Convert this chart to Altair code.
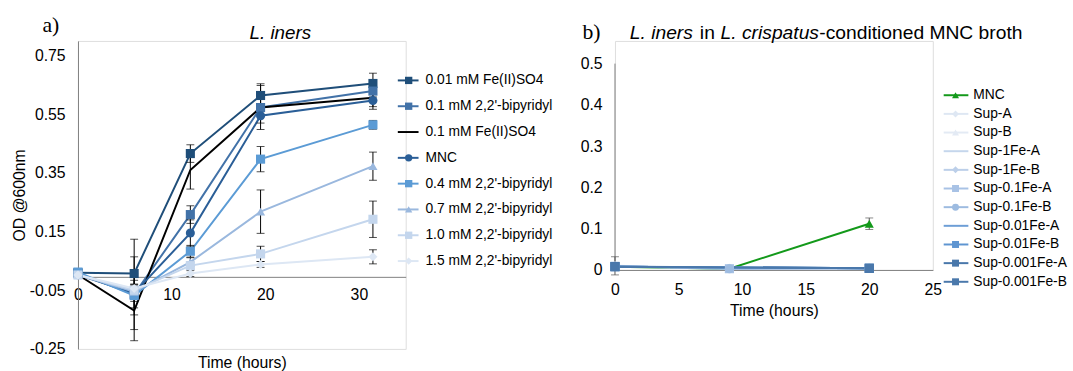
import altair as alt
import pandas as pd

FONT = "Liberation Sans"
SERIF = "Liberation Serif"

# ---------------- Panel a data ----------------
timesA = [0, 6, 12, 19.5, 31.5]
namesA = ["0.01 mM Fe(II)SO4", "0.1 mM 2,2'-bipyridyl", "0.1 mM Fe(II)SO4", "MNC",
          "0.4 mM 2,2'-bipyridyl", "0.7 mM 2,2'-bipyridyl", "1.0 mM 2,2'-bipyridyl",
          "1.5 mM 2,2'-bipyridyl"]
colorsA = ["#1f4e79", "#4272a8", "#000000", "#2a5e97", "#5b9bd5", "#9ab8de", "#c4d6ed", "#dde7f4"]
shapesA = ["square", "square", "", "circle", "square", "triangle-up", "square", "diamond"]
valuesA = [
    [0.010, 0.007, 0.416, 0.614, 0.655],
    [0.007, -0.064, 0.208, 0.573, 0.629],
    [0.003, -0.119, 0.360, 0.573, 0.606],
    [0.003, -0.060, 0.145, 0.545, 0.597],
    [0.012, -0.068, 0.083, 0.397, 0.514],
    [0.003, -0.055, 0.046, 0.218, 0.373],
    [0.002, -0.050, 0.034, 0.074, 0.192],
    [0.002, -0.044, 0.007, 0.038, 0.064],
]
errorsA = [
    [0, 0.117, 0.030, 0.040, 0.035],
    [0, 0.070, 0.030, 0.030, 0.020],
    [0, 0.103, 0.065, 0.075, 0.030],
    [0, 0.124, 0.045, 0.025, 0.030],
    [0, 0.020, 0.020, 0.043, 0.015],
    [0, 0.020, 0.015, 0.074, 0.048],
    [0, 0.020, 0.012, 0.026, 0.062],
    [0, 0.015, 0.010, 0.010, 0.024],
]

# ---------------- Panel b data ----------------
timesB = [0, 9, 20]
namesB = ["MNC", "Sup-A", "Sup-B", "Sup-1Fe-A", "Sup-1Fe-B", "Sup-0.1Fe-A", "Sup-0.1Fe-B",
          "Sup-0.01Fe-A", "Sup-0.01Fe-B", "Sup-0.001Fe-A", "Sup-0.001Fe-B"]
colorsB = ["#13991a", "#dee7f3", "#e3eaf4", "#c5d6ec", "#bccfe9", "#a8c2e5", "#9dbbe0",
           "#6d9ed6", "#5e95d1", "#4877aa", "#4a78ab"]
shapesB = ["triangle-up", "diamond", "triangle-up", "", "diamond", "square", "circle",
           "", "square", "square", "square"]
valuesB = [
    [0.008, 0.003, 0.112],
    [0.010, 0.004, 0.004],
    [0.010, 0.004, 0.004],
    [0.009, 0.004, 0.004],
    [0.009, 0.004, 0.004],
    [0.009, 0.003, 0.004],
    [0.009, 0.003, 0.004],
    [0.008, None, 0.004],
    [0.008, None, 0.004],
    [0.008, None, 0.004],
    [0.008, None, 0.004],
]
errorsB = [
    [0, 0, 0.014],
    [0.022, 0, 0], [0, 0, 0], [0, 0, 0], [0, 0, 0], [0, 0, 0], [0, 0, 0],
    [0, 0, 0], [0, 0, 0], [0, 0, 0], [0, 0, 0],
]
yAxisTopB = 0.5


def long_df(times, names, colors, shapes, values, errors):
    rows = []
    for i, n in enumerate(names):
        for j, t in enumerate(times):
            v = values[i][j]
            if v is None:
                continue
            e = errors[i][j]
            rows.append(dict(series=n, idx=i, time=t, value=v, lo=v - e, hi=v + e, err=e,
                             color=colors[i], shape=shapes[i]))
    return pd.DataFrame(rows)


def legend_df(names, colors, shapes):
    return pd.DataFrame(dict(series=names, color=colors, shape=shapes, idx=list(range(len(names)))))


def panel(df, leg, names, xdom, ydom, xvals, yvals, ylabel_expr, width, height, x_offset,
          y_title, leg_range, leg_x, leg_font, leg_size, mk_size, err_color, texts,
          x_label_pad, x_title_pad, y_domain_top=None):
    x = alt.X("time:Q", scale=alt.Scale(domain=xdom, nice=False, zero=False),
              axis=alt.Axis(values=xvals, title="Time (hours)", grid=False, ticks=False,
                            domainColor="#808080", domainWidth=1, labelFont=FONT,
                            labelFontSize=16, labelColor="#000", labelPadding=x_label_pad,
                            titleFont=FONT, titleFontSize=16, titleFontWeight="normal",
                            titleColor="#000", offset=x_offset,
                            titlePadding=x_title_pad, labelFlush=False))
    y = alt.Y("value:Q", scale=alt.Scale(domain=ydom, nice=False, zero=False),
              axis=alt.Axis(values=yvals, title=y_title, grid=False, ticks=False,
                            domain=(y_domain_top is None),
                            domainColor="#808080", domainWidth=1, labelFont=FONT,
                            labelFontSize=16, labelColor="#000", labelPadding=13,
                            labelExpr=ylabel_expr, titleFont=FONT, titleFontSize=16,
                            titleFontWeight="normal", titleColor="#000", titlePadding=2,
                            labelFlush=False))
    base = alt.Chart(df)
    lines = base.mark_line(strokeWidth=2).encode(
        x=x, y=y, color=alt.Color("color:N", scale=None), detail="series:N",
        order="time:Q")
    ebase = base.transform_filter("datum.err > 0")
    rules = ebase.mark_rule(color=err_color, strokeWidth=1).encode(
        x="time:Q", y="lo:Q", y2="hi:Q")
    cap_lo = ebase.mark_tick(orient="horizontal", size=8, thickness=1, color=err_color).encode(
        x="time:Q", y="lo:Q")
    cap_hi = ebase.mark_tick(orient="horizontal", size=8, thickness=1, color=err_color).encode(
        x="time:Q", y="hi:Q")
    pts = base.transform_filter("datum.shape != ''").mark_point(
        filled=True, size=mk_size, opacity=1).encode(
        x="time:Q", y="value:Q", color=alt.Color("color:N", scale=None),
        shape=alt.Shape("shape:N", scale=None))
    layers = [lines]
    if y_domain_top is not None:
        axis_line = alt.Chart(pd.DataFrame({"a": [0]})).mark_rule(
            color="#808080", strokeWidth=1).encode(
            x=alt.value(0), y=alt.Y(datum=ydom[0]), y2=alt.Y2(datum=y_domain_top))
        layers.append(axis_line)
    layers += [rules, cap_lo, cap_hi, pts]
    data_layer = alt.layer(*layers)

    ly = alt.Y("series:N", sort=names, axis=None,
               scale=alt.Scale(type="point", range=leg_range, padding=0))
    lbase = alt.Chart(leg)
    lrule = lbase.mark_rule(strokeWidth=2).encode(
        x=alt.value(leg_x[0]), x2=alt.value(leg_x[1]), y=ly,
        color=alt.Color("color:N", scale=None))
    lpts = lbase.transform_filter("datum.shape != ''").mark_point(
        filled=True, size=leg_size, opacity=1).encode(
        x=alt.value(leg_x[2]), y=ly, color=alt.Color("color:N", scale=None),
        shape=alt.Shape("shape:N", scale=None))
    ltxt = lbase.mark_text(align="left", baseline="middle", font=FONT,
                           fontSize=leg_font, color="#000").encode(
        x=alt.value(leg_x[3]), y=ly, text="series:N")
    leg_layer = alt.layer(lrule, lpts, ltxt)

    text_layers = []
    for (txt, tx, ty, font, size, style, align) in texts:
        text_layers.append(
            alt.Chart(pd.DataFrame({"t": [txt]})).mark_text(
                align=align, baseline="alphabetic", font=font, fontSize=size,
                fontStyle=style, color="#000").encode(
                text="t:N", x=alt.value(tx), y=alt.value(ty)))

    return alt.layer(data_layer, leg_layer, *text_layers).resolve_scale(
        y="independent").properties(width=width, height=height)


dfA = long_df(timesA, namesA, colorsA, shapesA, valuesA, errorsA)
legA = legend_df(namesA, colorsA, shapesA)
dfB = long_df(timesB, namesB, colorsB, shapesB, valuesB, errorsB)
legB = legend_df(namesB, colorsB, shapesB)

exprA = "(datum.value < 0 ? '-' : '') + format(abs(datum.value), '.2f')"
exprB = "format(datum.value, '~g')"

panelA = panel(
    dfA, legA, namesA, [0, 35], [-0.25, 0.8], [0, 10, 20, 30],
    [-0.25, -0.05, 0.15, 0.35, 0.55, 0.75], exprA, 332, 312, -73, "OD @600nm",
    [40, 223], [324, 345, 335, 352], 14, 55, 85, "#000",
    [("a)", -36, -9, SERIF, 22, "normal", "left"),
     ("L. iners", 205, -2, FONT, 19, "italic", "center")],
    x_label_pad=10, x_title_pad=53)

panelB = panel(
    dfB, legB, namesB, [0, 25], [0, 0.555], [0, 5, 10, 15, 20, 25],
    [0, 0.1, 0.2, 0.3, 0.4, 0.5], exprB, 322, 232, 0, None,
    [55, 244], [333, 358, 345, 363], 14, 50, 85, "#555",
    [("b)", -33, -2, SERIF, 22, "normal", "left"),
     ("L. iners", 15, -2, FONT, 19.5, "italic", "left"),
     ("in", 86, -2, FONT, 19.5, "normal", "left"),
     ("L. crispatus", 107, -2, FONT, 19.5, "italic", "left"),
     ("-conditioned MNC broth", 207, -2, FONT, 19.5, "normal", "left")],
    x_label_pad=12, x_title_pad=5, y_domain_top=yAxisTopB)

chart = alt.hconcat(panelA, panelB, spacing=26).properties(
    padding={"left": 11, "top": 11, "right": 5, "bottom": 5}
).configure_view(stroke=None).configure(background="white")

chart.save("out.html", embed_options={"renderer": "svg", "actions": False})
